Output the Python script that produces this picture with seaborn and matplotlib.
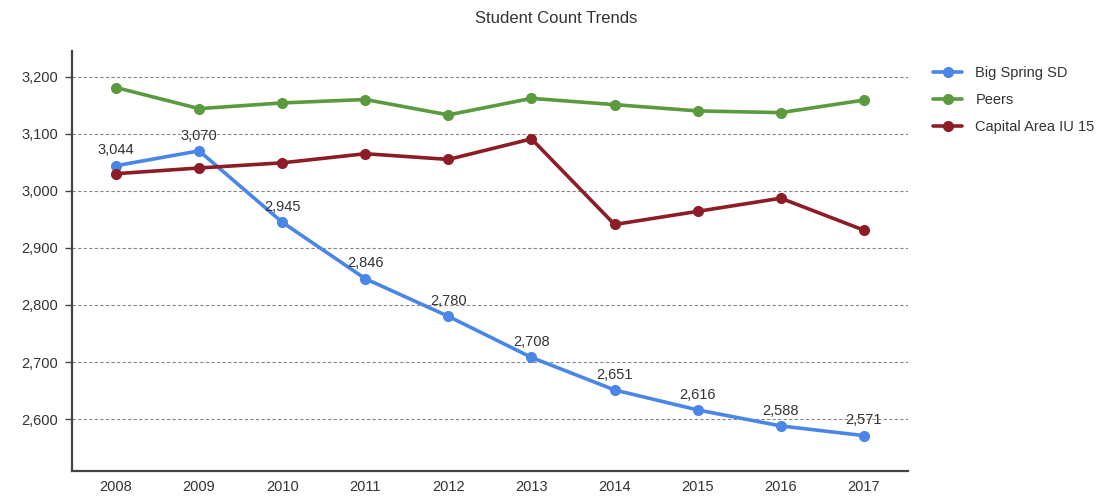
import pandas as pd
import matplotlib.pyplot as plt
import seaborn as sns
from matplotlib.ticker import FuncFormatter

years = [2008, 2009, 2010, 2011, 2012, 2013, 2014, 2015, 2016, 2017]
big_spring = [3044, 3070, 2945, 2846, 2780, 2708, 2651, 2616, 2588, 2571]
peers = [3181, 3144, 3154, 3160, 3133, 3162, 3151, 3140, 3137, 3159]
capital_area = [3030, 3040, 3049, 3065, 3055, 3091, 2941, 2964, 2987, 2931]

series_names = ["Big Spring SD", "Peers", "Capital Area IU 15"]
colors = ["#4a86e8", "#5b9a3e", "#8c1c25"]

df = pd.DataFrame({
    "Year": years * 3,
    "Students": big_spring + peers + capital_area,
    "Group": [n for n in series_names for _ in years],
})

sns.set_style("white")
plt.rcParams["font.family"] = ["Liberation Sans", "DejaVu Sans"]
text_color = "#333333"

fig = plt.figure(figsize=(11.12, 4.98), dpi=100)
ax = fig.add_axes([0.0647, 0.0542, 0.7518, 0.8434])

sns.lineplot(data=df, x="Year", y="Students", hue="Group", hue_order=series_names,
             palette=colors, marker="o", markersize=8, markeredgewidth=0,
             linewidth=2.6, ax=ax)

for x, y in zip(years, big_spring):
    ax.annotate(f"{y:,}", (x, y), xytext=(0, 6), textcoords="offset points",
                ha="center", va="bottom", fontsize=10.5, color=text_color)

ax.set_xlim(2007.47, 2017.53)
ax.set_ylim(2509, 3245)
ax.set_xticks(years)
ax.set_yticks([2600, 2700, 2800, 2900, 3000, 3100, 3200])
ax.yaxis.set_major_formatter(FuncFormatter(lambda v, p: f"{int(v):,}"))
ax.grid(axis="y", linestyle=(0, (3, 2)), color="#888888", linewidth=0.8)
ax.set_axisbelow(True)

for s in ["top", "right"]:
    ax.spines[s].set_visible(False)
for s in ["left", "bottom"]:
    ax.spines[s].set_color("#444444")
    ax.spines[s].set_linewidth(1.6)

ax.tick_params(axis="y", left=True, length=5, width=1, color="#444444",
               labelsize=10.5, labelcolor=text_color, pad=5)
ax.tick_params(axis="x", bottom=False, labelsize=10.5, labelcolor=text_color, pad=3)
ax.set_xlabel("")
ax.set_ylabel("")

leg = ax.legend(loc="upper left", bbox_to_anchor=(1.03, 0.965), frameon=False,
                fontsize=10.5, handlelength=2.0, handletextpad=0.9,
                labelspacing=0.9, borderpad=0, borderaxespad=0)
for t in leg.get_texts():
    t.set_color(text_color)

fig.text(0.5, 0.962, "Student Count Trends", ha="center", va="center",
         fontsize=12, color=text_color)

fig.savefig("out.png", dpi=100)
